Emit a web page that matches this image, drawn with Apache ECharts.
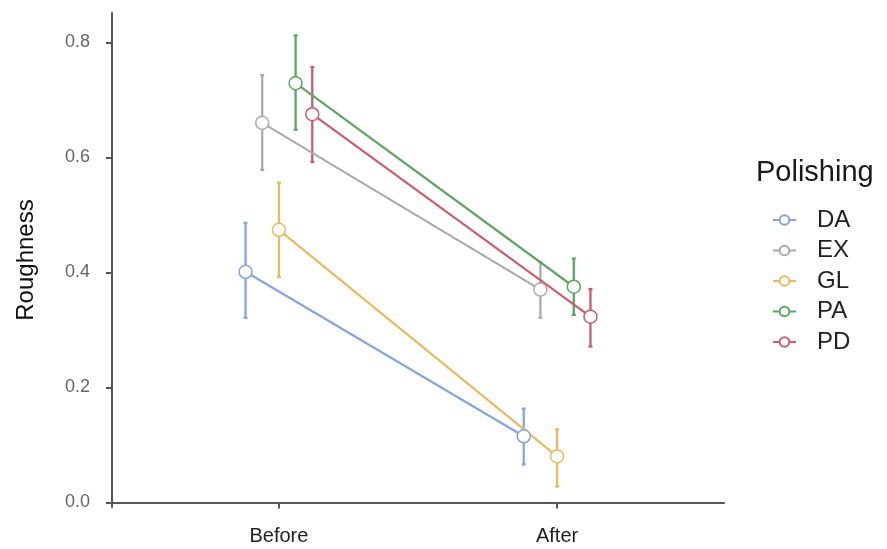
<!DOCTYPE html>
<html>
<head>
<meta charset="utf-8">
<script src="https://cdn.jsdelivr.net/npm/echarts@6/dist/echarts.min.js"></script>
<style>
html,body{margin:0;padding:0;background:#fff;}
#chart{width:887px;height:549px;}
</style>
</head>
<body>
<div id="chart"></div>
<script>
const categories = ['Before', 'After'];
const groups = ['DA', 'EX', 'GL', 'PA', 'PD'];
const colors = ['#86a6dc', '#ababab', '#e8ba62', '#5fa564', '#cc5d6c'];
const meanBefore = [0.401, 0.660, 0.474, 0.729, 0.675];
const lowBefore  = [0.321, 0.578, 0.392, 0.648, 0.592];
const highBefore = [0.486, 0.743, 0.556, 0.812, 0.757];
const meanAfter  = [0.115, 0.370, 0.080, 0.375, 0.323];
const lowAfter   = [0.066, 0.321, 0.028, 0.326, 0.271];
const highAfter  = [0.163, 0.418, 0.127, 0.424, 0.371];
const yTicks = [0, 0.2, 0.4, 0.6, 0.8];

const FONT = 'Liberation Sans, Arial, sans-serif';
const dodgeStep = 0.06;

const series = [];
groups.forEach((g, i) => {
  const off = (i - (groups.length - 1) / 2) * dodgeStep;
  const means = [meanBefore[i], meanAfter[i]];
  const lows = [lowBefore[i], lowAfter[i]];
  const highs = [highBefore[i], highAfter[i]];
  series.push({
    name: g + ' error',
    type: 'custom',
    z: 1,
    silent: true,
    data: categories.map((c, k) => [k + 1 + off, lows[k], highs[k]]),
    renderItem: function (params, api) {
      const lo = api.coord([api.value(0), api.value(1)]);
      const hi = api.coord([api.value(0), api.value(2)]);
      const st = { stroke: colors[i], lineWidth: 2.3 };
      const cw = 2;
      return {
        type: 'group',
        children: [
          { type: 'line', shape: { x1: lo[0], y1: lo[1], x2: hi[0], y2: hi[1] }, style: st },
          { type: 'line', shape: { x1: lo[0] - cw, y1: lo[1], x2: lo[0] + cw, y2: lo[1] }, style: st },
          { type: 'line', shape: { x1: hi[0] - cw, y1: hi[1], x2: hi[0] + cw, y2: hi[1] }, style: st }
        ]
      };
    }
  });
  series.push({
    name: g,
    type: 'line',
    z: 2,
    data: categories.map((c, k) => [k + 1 + off, means[k]]),
    symbol: 'circle',
    symbolSize: 13,
    showSymbol: true,
    lineStyle: { color: colors[i], width: 2.2 },
    itemStyle: { color: '#ffffff', borderColor: colors[i], borderWidth: 1.5 }
  });
});

const chart = echarts.init(document.getElementById('chart'), null, { renderer: 'canvas' });
chart.setOption({
  animation: false,
  backgroundColor: '#ffffff',
  title: {
    text: 'Polishing',
    left: 751,
    top: 153,
    textStyle: { fontFamily: FONT, fontSize: 29, fontWeight: 'normal', color: '#1a1a1a' }
  },
  legend: {
    data: groups,
    orient: 'vertical',
    left: 767,
    top: 203,
    itemWidth: 23,
    itemHeight: 12,
    itemGap: 6.5,
    textStyle: { fontFamily: FONT, fontSize: 24, color: '#222', lineHeight: 24, padding: [0, 0, 0, 16] }
  },
  grid: { left: 112, top: 13, width: 612, height: 494, containLabel: false },
  xAxis: {
    type: 'value',
    min: 0.4,
    max: 2.6,
    splitLine: { show: false },
    axisLine: { show: true, lineStyle: { color: '#555', width: 2 } },
    axisTick: { show: true, length: 6, customValues: [1, 2], lineStyle: { color: '#555', width: 2 } },
    axisLabel: {
      customValues: [1, 2],
      formatter: v => categories[Math.round(v) - 1],
      fontFamily: FONT, fontSize: 20, color: '#222', margin: 19
    }
  },
  yAxis: {
    type: 'value',
    min: -0.008,
    max: 0.851,
    name: 'Roughness',
    nameLocation: 'middle',
    nameRotate: 90,
    nameGap: 74,
    nameTextStyle: { fontFamily: FONT, fontSize: 24, color: '#111' },
    splitLine: { show: false },
    axisLine: { show: true, lineStyle: { color: '#555', width: 2 } },
    axisTick: { show: true, length: 6, customValues: yTicks, lineStyle: { color: '#555', width: 2 } },
    axisLabel: {
      customValues: yTicks,
      formatter: v => v.toFixed(1),
      fontFamily: FONT, fontSize: 18, color: '#666', margin: 22
    }
  },
  series: series
});
</script>
</body>
</html>
